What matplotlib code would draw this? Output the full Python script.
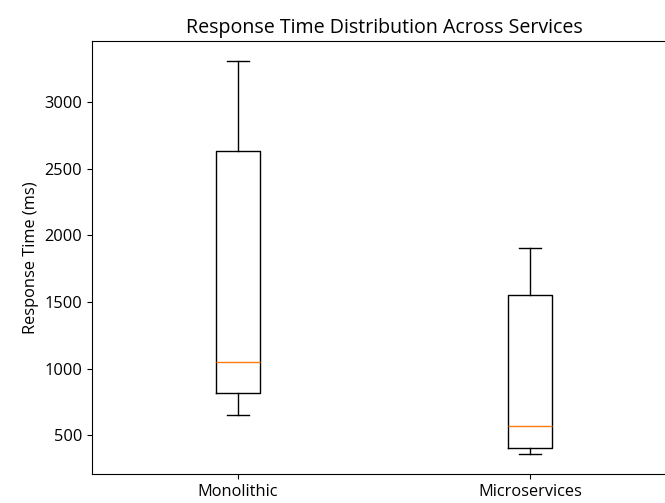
import matplotlib
matplotlib.use("Agg")
import matplotlib.pyplot as plt

services = ["Monolithic", "Microservices"]
monolithic_ms = [654, 816, 1050, 2632, 3311]
microservices_ms = [358, 408, 572, 1552, 1903]

plt.rcParams["font.family"] = ["Open Sans", "DejaVu Sans"]
plt.rcParams["font.size"] = 11.8

fig = plt.figure(figsize=(6.65, 5.03), dpi=100)
# the source image is cropped on the right, so the axes run past the canvas
ax = fig.add_axes([92 / 665, 29 / 503, 584 / 665, 433 / 503])

ax.boxplot([monolithic_ms, microservices_ms], tick_labels=services)
ax.spines["right"].set_visible(False)
ax.set_ylabel("Response Time (ms)")
ax.set_title("Response Time Distribution Across Services")

fig.savefig("out.png")
